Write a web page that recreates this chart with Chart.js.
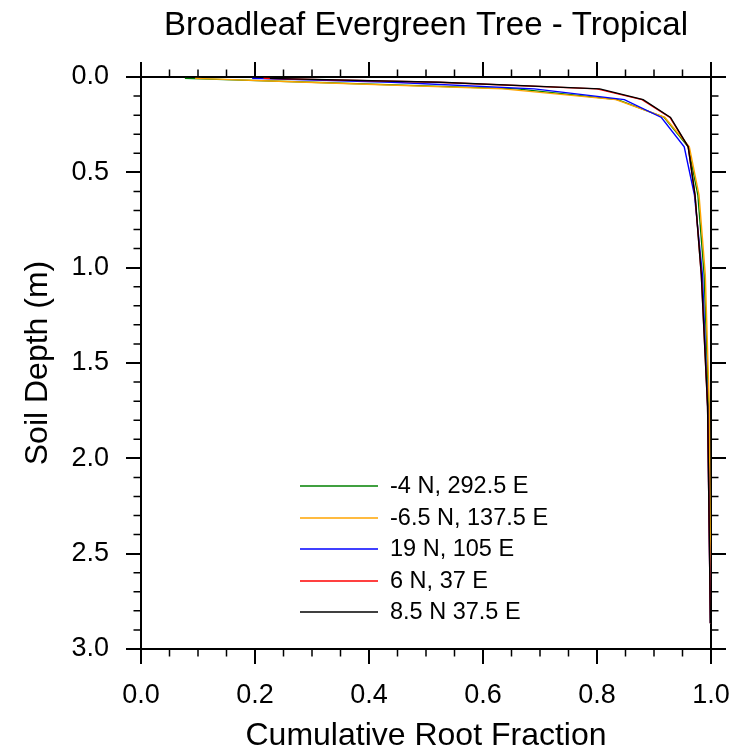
<!DOCTYPE html>
<html lang="en">
<head>
<meta charset="UTF-8" />
<title>Broadleaf Evergreen Tree - Tropical</title>
<script src="https://cdn.jsdelivr.net/npm/chart.js"></script>
<style>
  html, body { margin: 0; padding: 0; background: #ffffff; }
  #wrap { position: relative; width: 739px; height: 752px; }
</style>
</head>
<body>
<div id="wrap"><canvas id="rootChart"></canvas></div>
<script>
// soil node depths (m) and cumulative root fraction per site
const depths = [0.0071, 0.0279, 0.0623, 0.1189, 0.2122, 0.3661, 0.6198, 1.038, 1.7276, 2.8646];
const siteLabels = ["-4 N, 292.5 E", "-6.5 N, 137.5 E", "19 N, 105 E", "6 N, 37 E", "8.5 N 37.5 E"];
const siteColors = ["#008000", "#FFA500", "#0000FF", "#FF0000", "#000000"];
const fracGreen  = [0.077, 0.300, 0.660, 0.836, 0.918, 0.960, 0.977, 0.988, 0.996, 0.999];
const fracOrange = [0.095, 0.290, 0.635, 0.833, 0.919, 0.962, 0.979, 0.990, 0.997, 0.9995];
const fracBlue   = [0.195, 0.440, 0.690, 0.848, 0.913, 0.953, 0.971, 0.985, 0.994, 0.999];
const fracRed    = [0.215, 0.520, 0.800, 0.879, 0.928, 0.960, 0.972, 0.983, 0.994, 0.999];
const fracBlack  = [0.226, 0.525, 0.805, 0.881, 0.929, 0.960, 0.972, 0.983, 0.994, 0.999];
const xTicks = [0, 0.2, 0.4, 0.6, 0.8, 1.0];
const yTicks = [0, 0.5, 1.0, 1.5, 2.0, 2.5, 3.0];
const chartTitle = "Broadleaf Evergreen Tree - Tropical";

const allFracs = [fracGreen, fracOrange, fracBlue, fracRed, fracBlack];

Chart.defaults.font.family = '"Liberation Sans", Arial, Helvetica, sans-serif';
Chart.defaults.color = "#000";

const datasets = allFracs.map((fr, i) => ({
  label: siteLabels[i],
  data: fr.map((f, k) => ({x: f, y: depths[k]})),
  borderColor: siteColors[i],
  backgroundColor: siteColors[i],
  borderWidth: 1.4,
  pointRadius: 0,
  showLine: true,
  tension: 0,
  order: allFracs.length - 1 - i, // black drawn on top
}));

// title over the plot, minor ticks on every side, and the in-plot legend
const extrasPlugin = {
  id: "extras",
  afterDraw(chart) {
    const ctx = chart.ctx;
    const a = chart.chartArea;
    const xs = chart.scales.x, ys = chart.scales.y;
    ctx.save();

    ctx.fillStyle = "#000";
    ctx.font = '33px "Liberation Sans", Arial, sans-serif';
    ctx.textAlign = "center";
    ctx.textBaseline = "middle";
    ctx.fillText(chartTitle, (a.left + a.right) / 2, 26);

    ctx.strokeStyle = "#000";
    ctx.lineWidth = 1.5;
    ctx.beginPath();
    for (let i = 0; i <= 30; i++) {
      if (i % 5 === 0) continue;
      const py = ys.getPixelForValue(i / 10);
      ctx.moveTo(a.left - 7.5, py); ctx.lineTo(a.left, py);
      ctx.moveTo(a.right, py); ctx.lineTo(a.right + 7.5, py);
    }
    for (let i = 0; i <= 20; i++) {
      if (i % 4 === 0) continue;
      const px = xs.getPixelForValue(i / 20);
      ctx.moveTo(px, a.top - 7.5); ctx.lineTo(px, a.top);
      ctx.moveTo(px, a.bottom); ctx.lineTo(px, a.bottom + 7.5);
    }
    ctx.stroke();

    // legend
    const lx = a.left + 159, ly = 486;
    ctx.font = '23.5px "Liberation Sans", Arial, sans-serif';
    ctx.textBaseline = "middle";
    ctx.textAlign = "left";
    chart.data.datasets.forEach((ds, i) => {
      const y = Math.round(ly + i * 31.5);
      ctx.strokeStyle = ds.borderColor;
      ctx.lineWidth = 1.6;
      ctx.beginPath();
      ctx.moveTo(lx, y); ctx.lineTo(lx + 78, y);
      ctx.stroke();
      ctx.fillStyle = "#000";
      ctx.fillText(ds.label, lx + 90, y + 1);
    });
    ctx.restore();
  },
};

const axisLine = {display: true, color: "#000", width: 2};
const tickGrid = {display: true, drawOnChartArea: false, drawTicks: true, tickLength: 15, color: "#000", lineWidth: 2};

new Chart(document.getElementById("rootChart"), {
  type: "scatter",
  data: {datasets: datasets},
  options: {
    responsive: true,
    maintainAspectRatio: false,
    animation: false,
    devicePixelRatio: 1,
    layout: {padding: 0},
    plugins: {
      legend: {display: false},
      tooltip: {enabled: false},
      title: {display: false},
    },
    scales: {
      x: {
        type: "linear", position: "bottom", min: 0, max: 1,
        afterBuildTicks: s => { s.ticks = xTicks.map(v => ({value: v})); },
        ticks: {callback: v => v.toFixed(1), font: {size: 27}, color: "#000", padding: 15, maxRotation: 0},
        grid: tickGrid, border: axisLine,
        title: {display: true, text: "Cumulative Root Fraction", color: "#000",
                font: {size: 32, lineHeight: 1}, padding: {top: 0, bottom: 0}},
        afterFit: s => { s.height = 103; s.paddingLeft = 0; s.paddingRight = 0; },
      },
      x2: {
        type: "linear", position: "top", min: 0, max: 1,
        afterBuildTicks: s => { s.ticks = xTicks.map(v => ({value: v})); },
        ticks: {display: false},
        grid: tickGrid, border: axisLine,
        afterFit: s => { s.height = 77; s.paddingLeft = 0; s.paddingRight = 0; },
      },
      y: {
        type: "linear", position: "left", min: 0, max: 3, reverse: true,
        afterBuildTicks: s => { s.ticks = yTicks.map(v => ({value: v})); },
        ticks: {callback: v => v.toFixed(1), font: {size: 27}, color: "#000", padding: 17},
        grid: tickGrid, border: axisLine,
        title: {display: true, text: "Soil Depth (m)", color: "#000",
                font: {size: 32, lineHeight: 1}, padding: {top: 22, bottom: 0}},
        afterFit: s => { s.width = 141; s.paddingTop = 0; s.paddingBottom = 0; },
      },
      y2: {
        type: "linear", position: "right", min: 0, max: 3, reverse: true,
        afterBuildTicks: s => { s.ticks = yTicks.map(v => ({value: v})); },
        ticks: {display: false},
        grid: tickGrid, border: axisLine,
        afterFit: s => { s.width = 28; s.paddingTop = 0; s.paddingBottom = 0; },
      },
    },
  },
  plugins: [extrasPlugin],
});
</script>
</body>
</html>
